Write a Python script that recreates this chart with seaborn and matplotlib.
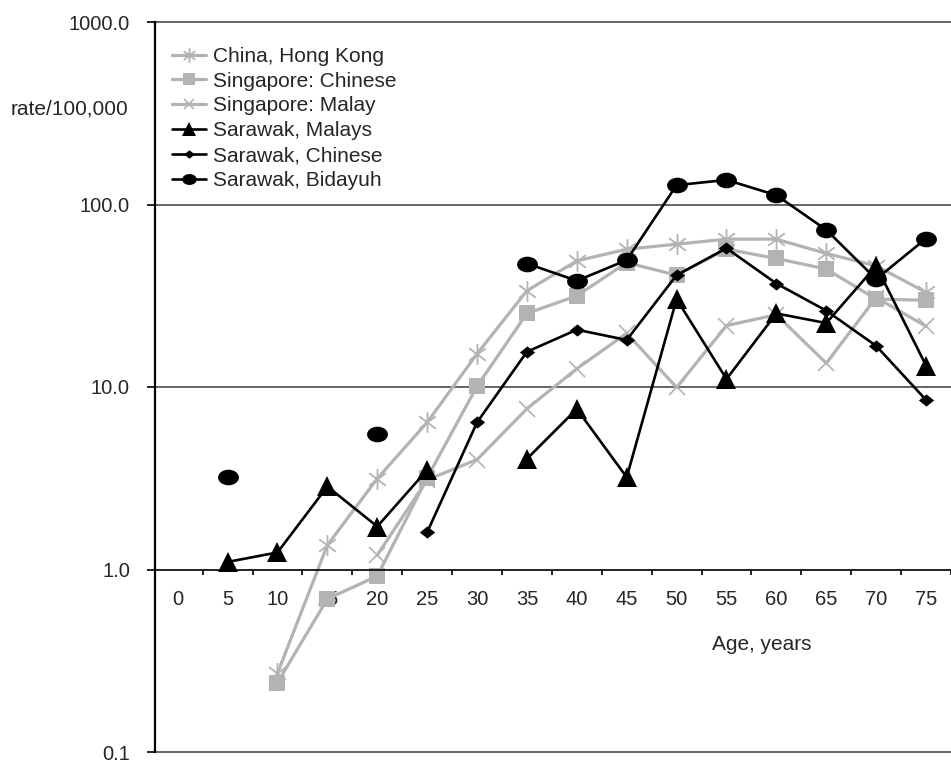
import numpy as np
import pandas as pd
import matplotlib
matplotlib.use("Agg")
import matplotlib.pyplot as plt
from matplotlib.path import Path
from matplotlib.ticker import NullLocator
import seaborn as sns

nan = np.nan
AGES = [0, 5, 10, 15, 20, 25, 30, 35, 40, 45, 50, 55, 60, 65, 70, 75]

china_hk = [nan, nan, 0.27, 1.36, 3.15, 6.4, 15.2, 33.7, 49.1, 56.9, 60.6, 64.6, 64.6, 53.9, 46.1, 33.0]
sing_chinese = [nan, nan, 0.24, 0.69, 0.92, 3.18, 10.1, 25.3, 31.6, 48.0, 41.0, 56.9, 50.6, 44.3, 30.3, 29.9]
sing_malay = [nan, nan, nan, nan, 1.2, 3.1, 4.0, 7.6, 12.6, 19.7, 9.95, 21.7, 24.9, 13.5, 30.9, 21.5]
sarawak_malays = [nan, 1.10, 1.24, 2.85, 1.72, 3.51, nan, 4.04, 7.58, 3.2, 30.3, 11.06, 25.3, 22.4, 46.1, 13.1]
sarawak_chinese = [nan, nan, nan, nan, nan, 1.60, 6.4, 15.6, 20.6, 18.1, 41.0, 57.6, 36.9, 26.2, 16.8, 8.49]
sarawak_bidayuh = [nan, 3.2, nan, nan, 5.5, nan, nan, 47.5, 38.2, 49.6, 127.6, 136.4, 112.4, 72.6, 39.0, 65.1]

Y_TICKS = [0.1, 1, 10, 100, 1000]
Y_LABELS = ["0.1", "1.0", "10.0", "100.0", "1000.0"]

GRAY = "#b3b3b3"
BLACK = "#000000"

# excel-style marker shapes
asterisk = Path([(0, -1), (0, 1), (-0.8, -0.6), (0.8, 0.6), (-0.8, 0.6), (0.8, -0.6)],
                [Path.MOVETO, Path.LINETO] * 3)
ellipse = Path.unit_circle().transformed(matplotlib.transforms.Affine2D().scale(1, 0.75))
diamond = Path([(-1, 0), (0, 0.8), (1, 0), (0, -0.8), (-1, 0)],
               [Path.MOVETO, Path.LINETO, Path.LINETO, Path.LINETO, Path.CLOSEPOLY])

series = [
    ("China, Hong Kong", china_hk, GRAY, asterisk, 15, dict(mfc="none", mec=GRAY, mew=1.3), 2.3),
    ("Singapore: Chinese", sing_chinese, GRAY, "s", 12, dict(mfc=GRAY, mec=GRAY, mew=0), 2.3),
    ("Singapore: Malay", sing_malay, GRAY, "x", 11, dict(mfc="none", mec=GRAY, mew=1.2), 2.3),
    ("Sarawak, Malays", sarawak_malays, BLACK, "^", 14, dict(mfc=BLACK, mec=BLACK, mew=0), 1.9),
    ("Sarawak, Chinese", sarawak_chinese, BLACK, diamond, 11, dict(mfc=BLACK, mec=BLACK, mew=0), 1.9),
    ("Sarawak, Bidayuh", sarawak_bidayuh, BLACK, ellipse, 15, dict(mfc=BLACK, mec=BLACK, mew=0), 1.9),
]

sns.set_style("white")
plt.rcParams["font.family"] = ["Liberation Sans", "DejaVu Sans"]

fig = plt.figure(figsize=(9.51, 7.62), dpi=100)
ax = fig.add_axes([155 / 951, 10 / 762, 796 / 951, 730 / 762])

pos = np.arange(len(AGES))
for name, vals, color, marker, ms, mkw, lw in series:
    df = pd.DataFrame({"x": pos, "y": vals})
    df["seg"] = df["y"].isna().cumsum()
    df = df.dropna()
    first = True
    for _, seg in df.groupby("seg"):
        sns.lineplot(data=seg, x="x", y="y", ax=ax, color=color, lw=lw,
                     marker=marker, markersize=ms, estimator=None,
                     label=name if first else None, **mkw)
        first = False

ax.set_yscale("log")
ax.set_ylim(0.1, 1000)
ax.set_xlim(-0.455, 15.28)

for v in [0.1, 10, 100, 1000]:
    ax.axhline(v, color="#4a4a4a", lw=1.2, zorder=0.5, clip_on=False)

ax.set_yticks(Y_TICKS, Y_LABELS)
ax.yaxis.set_minor_locator(NullLocator())
ax.tick_params(axis="y", which="major", left=True, direction="out", length=6,
               width=1.2, pad=12, labelsize=14.5, color="black")

ax.spines["bottom"].set_position(("data", 1))
ax.spines["bottom"].set_color("black")
ax.spines["bottom"].set_linewidth(1.2)
ax.spines["left"].set_color("black")
ax.spines["left"].set_linewidth(1.6)
ax.spines["top"].set_visible(False)
ax.spines["right"].set_visible(False)

ax.set_xticks(pos + 0.5)
ax.set_xticklabels([])
ax.set_xticks(pos, [str(a) for a in AGES], minor=True)
ax.tick_params(axis="x", which="major", bottom=True, direction="out", length=3.6,
               width=1.2, color="black")
ax.tick_params(axis="x", which="minor", bottom=True, length=0, pad=15, labelsize=14.5)

ax.set_xlabel("Age, years", fontsize=15)
ax.xaxis.set_label_coords(0.7626, 0.1466)
ax.xaxis.label.set_va("center")
ax.set_ylabel("rate/100,000", fontsize=15, rotation=0, ha="right", va="center")
ax.yaxis.set_label_coords(-0.034, 0.881)

ax.legend(loc="upper left", bbox_to_anchor=(0.0214, 0.966), frameon=False,
          fontsize=15, borderpad=0, borderaxespad=0, handlelength=1.65,
          handletextpad=0.3, labelspacing=0.28, markerscale=0.7)

fig.savefig("out.png", dpi=100)
